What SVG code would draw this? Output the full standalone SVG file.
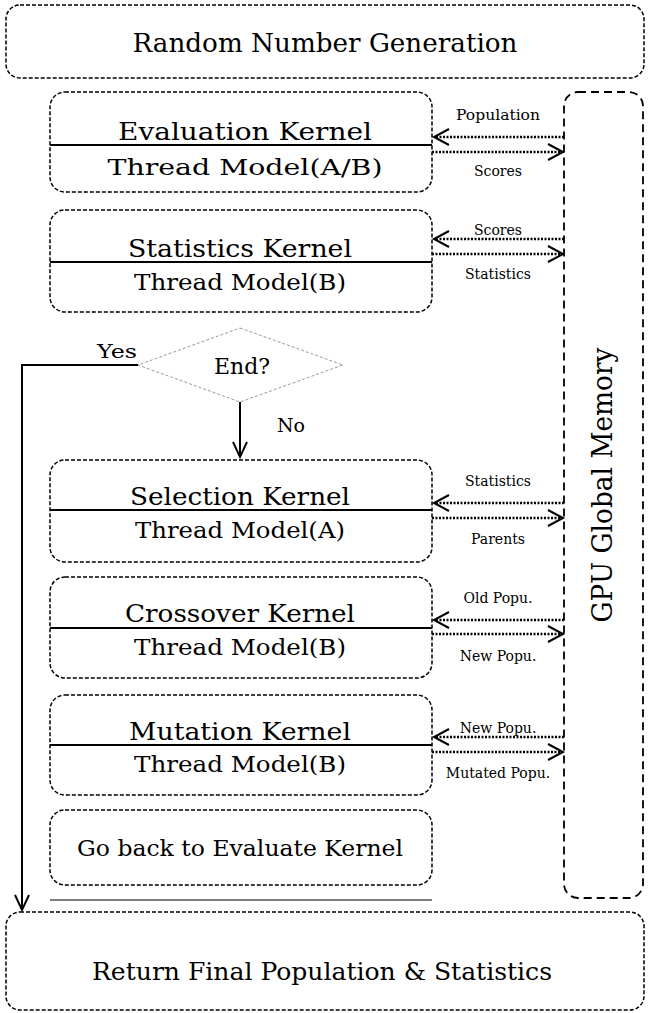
<svg xmlns="http://www.w3.org/2000/svg" width="648" height="1013" viewBox="0 0 648 1013">
<style>
.box{fill:none;stroke:#000;stroke-width:1.5;stroke-dasharray:4 2}
.mem{fill:none;stroke:#000;stroke-width:1.8;stroke-dasharray:8 5}
.sep{stroke:#000;stroke-width:2}
.t{font-family:"DejaVu Serif","Liberation Serif",serif;fill:#000;text-anchor:middle}
.big{font-size:24px}
.mid{font-size:22px}
.sm{font-size:14px}
.dot{fill:none;stroke:#000;stroke-width:2.5;stroke-dasharray:2 1.5}
.ah{fill:none;stroke:#000;stroke-width:2}
.flow{fill:none;stroke:#000;stroke-width:2}
</style>
<rect width="648" height="1013" fill="#fff"/>
<g id="rng">
<rect class="box" x="6" y="5" width="638" height="73" rx="14"/>
<text class="t" x="325" y="52" font-size="26" textLength="385" lengthAdjust="spacingAndGlyphs">Random Number Generation</text>
</g>
<g id="eval">
<rect class="box" x="50" y="92" width="382" height="100" rx="15"/>
<line class="sep" x1="50" y1="145" x2="432" y2="145"/>
<text class="t big" x="245" y="140" textLength="254" lengthAdjust="spacingAndGlyphs">Evaluation Kernel</text>
<text class="t mid" x="245" y="175" textLength="275" lengthAdjust="spacingAndGlyphs">Thread Model(A/B)</text>
</g>
<g id="stats">
<rect class="box" x="50" y="210" width="382" height="102" rx="15"/>
<line class="sep" x1="50" y1="262" x2="432" y2="262"/>
<text class="t big" x="240" y="257" textLength="224" lengthAdjust="spacingAndGlyphs">Statistics Kernel</text>
<text class="t mid" x="240" y="290" textLength="212" lengthAdjust="spacingAndGlyphs">Thread Model(B)</text>
</g>
<g id="end">
<polygon points="240,328 343,365 240,402 138,365" fill="none" stroke="#999" stroke-width="1" stroke-dasharray="3 2"/>
<text class="t" x="242" y="374" font-size="22">End?</text>
</g>
<g id="sel">
<rect class="box" x="50" y="460" width="382" height="102" rx="15"/>
<line class="sep" x1="50" y1="510" x2="432" y2="510"/>
<text class="t big" x="240" y="505" textLength="220" lengthAdjust="spacingAndGlyphs">Selection Kernel</text>
<text class="t mid" x="240" y="538" textLength="210" lengthAdjust="spacingAndGlyphs">Thread Model(A)</text>
</g>
<g id="cross">
<rect class="box" x="50" y="577" width="382" height="101" rx="15"/>
<line class="sep" x1="50" y1="628" x2="432" y2="628"/>
<text class="t big" x="240" y="622" textLength="230" lengthAdjust="spacingAndGlyphs">Crossover Kernel</text>
<text class="t mid" x="240" y="655" textLength="212" lengthAdjust="spacingAndGlyphs">Thread Model(B)</text>
</g>
<g id="mut">
<rect class="box" x="50" y="695" width="382" height="100" rx="15"/>
<line class="sep" x1="50" y1="745" x2="432" y2="745"/>
<text class="t big" x="240" y="740" textLength="222" lengthAdjust="spacingAndGlyphs">Mutation Kernel</text>
<text class="t mid" x="240" y="772" textLength="212" lengthAdjust="spacingAndGlyphs">Thread Model(B)</text>
</g>
<g id="goback">
<rect class="box" x="50" y="810" width="382" height="75" rx="15"/>
<text class="t mid" x="240" y="856" textLength="326" lengthAdjust="spacingAndGlyphs">Go back to Evaluate Kernel</text>
</g>
<g id="rule">
<line x1="50" y1="900" x2="432" y2="900" stroke="#000" stroke-width="1"/>
</g>
<g id="final">
<rect class="box" x="6" y="912" width="638" height="98" rx="14"/>
<text class="t" x="322" y="980" font-size="24" textLength="460" lengthAdjust="spacingAndGlyphs">Return Final Population &amp; Statistics</text>
</g>
<g id="gpu">
<rect class="mem" x="564" y="92" width="79" height="806" rx="14"/>
<text class="t" transform="translate(612,485) rotate(-90)" font-size="27" textLength="275" lengthAdjust="spacingAndGlyphs">GPU Global Memory</text>
</g>
<g id="connectors">
<polyline class="flow" points="138,365 22,365 22,910"/>
<polyline class="ah" points="15,895 22,910 29,895"/>
<line class="flow" x1="240" y1="402" x2="240" y2="457"/>
<polyline class="ah" points="233,442 240,457 247,442"/>
<text class="t" x="117" y="358" font-size="19" textLength="40" lengthAdjust="spacingAndGlyphs">Yes</text>
<text class="t" x="291" y="432" font-size="19">No</text>

<line class="dot" x1="436" y1="137" x2="564" y2="137"/>
<polyline class="ah" points="449,129 434,137 449,145"/>
<line class="dot" x1="432" y1="152" x2="561" y2="152"/>
<polyline class="ah" points="548,144 563,152 548,160"/>
<text class="t sm" x="498" y="120" textLength="84" lengthAdjust="spacingAndGlyphs">Population</text>
<text class="t sm" x="498" y="176">Scores</text>

<line class="dot" x1="436" y1="239" x2="564" y2="239"/>
<polyline class="ah" points="449,231 434,239 449,247"/>
<line class="dot" x1="432" y1="254" x2="561" y2="254"/>
<polyline class="ah" points="548,246 563,254 548,262"/>
<text class="t sm" x="498" y="235">Scores</text>
<text class="t sm" x="498" y="279">Statistics</text>

<line class="dot" x1="436" y1="503" x2="564" y2="503"/>
<polyline class="ah" points="449,495 434,503 449,511"/>
<line class="dot" x1="432" y1="518" x2="561" y2="518"/>
<polyline class="ah" points="548,510 563,518 548,526"/>
<text class="t sm" x="498" y="486">Statistics</text>
<text class="t sm" x="498" y="544">Parents</text>

<line class="dot" x1="436" y1="620" x2="564" y2="620"/>
<polyline class="ah" points="449,612 434,620 449,628"/>
<line class="dot" x1="432" y1="634" x2="561" y2="634"/>
<polyline class="ah" points="548,626 563,634 548,642"/>
<text class="t sm" x="498" y="603">Old Popu.</text>
<text class="t sm" x="498" y="661">New Popu.</text>

<line class="dot" x1="436" y1="737" x2="564" y2="737"/>
<polyline class="ah" points="449,729 434,737 449,745"/>
<line class="dot" x1="432" y1="752" x2="561" y2="752"/>
<polyline class="ah" points="548,744 563,752 548,760"/>
<text class="t sm" x="498" y="733">New Popu.</text>
<text class="t sm" x="498" y="778">Mutated Popu.</text>
</g>
</svg>
